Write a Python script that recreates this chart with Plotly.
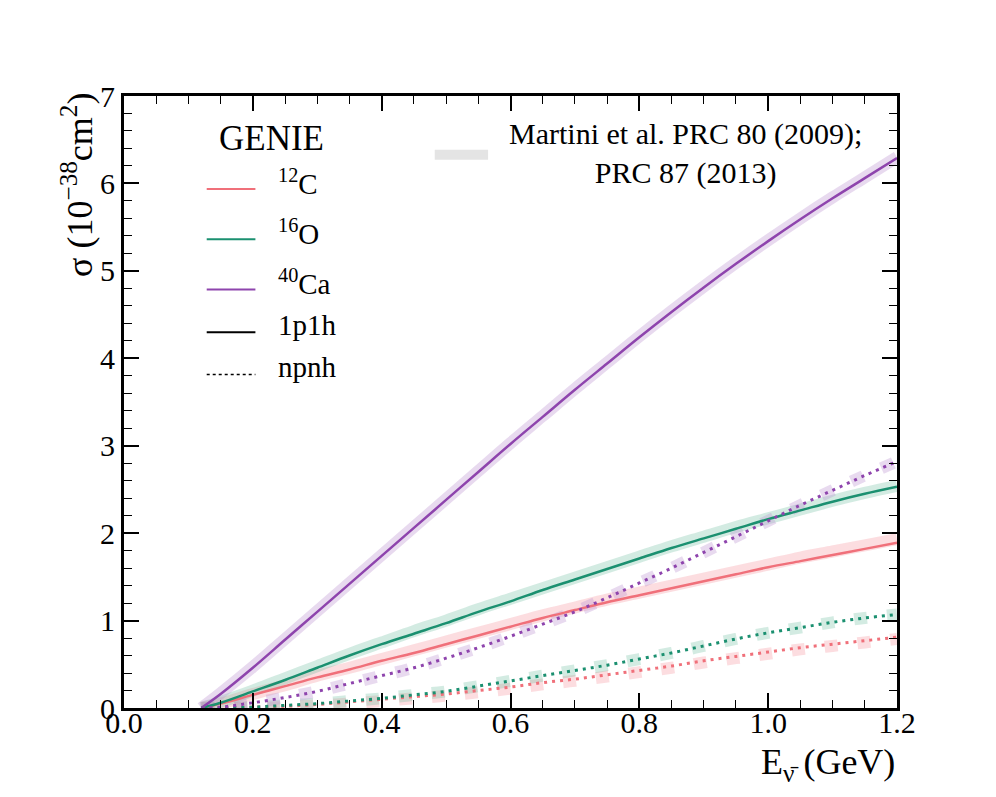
import plotly.graph_objects as go

# energy grid (GeV)
energy = [0.12, 0.15, 0.2, 0.25, 0.3, 0.35, 0.4, 0.45, 0.5, 0.55, 0.6, 0.65,
          0.7, 0.75, 0.8, 0.85, 0.9, 0.95, 1.0, 1.05, 1.1, 1.15, 1.2]

# GENIE 1p1h (10^-38 cm^2)
genie_c_1p1h = [0, 0.05, 0.15, 0.25, 0.35, 0.44, 0.54, 0.63, 0.73, 0.83, 0.93, 1.03,
                1.12, 1.21, 1.29, 1.37, 1.45, 1.53, 1.61, 1.68, 1.75, 1.82, 1.89]
genie_o_1p1h = [0, 0.06, 0.19, 0.32, 0.46, 0.6, 0.73, 0.85, 0.97, 1.1, 1.22, 1.35,
                1.47, 1.59, 1.71, 1.83, 1.94, 2.05, 2.16, 2.26, 2.36, 2.45, 2.53]
genie_ca_1p1h = [0, 0.16, 0.46, 0.78, 1.1, 1.42, 1.74, 2.06, 2.38, 2.7, 3.02, 3.33,
                 3.64, 3.94, 4.24, 4.53, 4.81, 5.08, 5.34, 5.59, 5.83, 6.06, 6.29]

# GENIE npnh
genie_c_npnh = [0, 0, 0.01, 0.02, 0.04, 0.07, 0.1, 0.13, 0.16, 0.2, 0.24, 0.29,
                0.33, 0.38, 0.43, 0.48, 0.54, 0.59, 0.64, 0.69, 0.73, 0.77, 0.81]
genie_o_npnh = [0, 0, 0.01, 0.03, 0.05, 0.08, 0.11, 0.15, 0.19, 0.25, 0.31, 0.37,
                0.43, 0.49, 0.56, 0.63, 0.71, 0.79, 0.86, 0.92, 0.98, 1.03, 1.07]
genie_ca_npnh = [0, 0.01, 0.06, 0.12, 0.19, 0.28, 0.37, 0.46, 0.57, 0.69, 0.82, 0.96,
                 1.1, 1.26, 1.43, 1.6, 1.78, 1.96, 2.14, 2.32, 2.49, 2.66, 2.82]

# Martini et al. (bands)
martini_c_1p1h = [0, 0.05, 0.16, 0.26, 0.37, 0.46, 0.56, 0.66, 0.76, 0.86, 0.96, 1.06,
                  1.15, 1.24, 1.32, 1.4, 1.48, 1.56, 1.64, 1.72, 1.79, 1.86, 1.93]
martini_o_1p1h = [0, 0.07, 0.2, 0.34, 0.48, 0.62, 0.75, 0.88, 1.0, 1.13, 1.25, 1.37,
                  1.49, 1.61, 1.73, 1.85, 1.96, 2.07, 2.17, 2.27, 2.37, 2.46, 2.54]
martini_ca_1p1h = [0, 0.17, 0.47, 0.79, 1.11, 1.43, 1.75, 2.07, 2.39, 2.71, 3.03, 3.34,
                   3.65, 3.95, 4.25, 4.54, 4.82, 5.09, 5.35, 5.6, 5.84, 6.07, 6.3]
martini_c_npnh = [0, 0, 0.0, 0.01, 0.03, 0.05, 0.08, 0.11, 0.14, 0.18, 0.22, 0.27,
                  0.31, 0.36, 0.41, 0.46, 0.52, 0.57, 0.62, 0.67, 0.71, 0.75, 0.79]
martini_o_npnh = [0, 0, 0.01, 0.03, 0.05, 0.08, 0.11, 0.15, 0.19, 0.25, 0.31, 0.37,
                  0.43, 0.49, 0.56, 0.63, 0.71, 0.79, 0.86, 0.92, 0.98, 1.03, 1.07]
martini_ca_npnh = [0, 0.01, 0.06, 0.12, 0.19, 0.28, 0.37, 0.46, 0.57, 0.69, 0.82, 0.96,
                   1.1, 1.26, 1.43, 1.6, 1.78, 1.96, 2.14, 2.32, 2.49, 2.66, 2.82]

red = "#f0707a"
green = "#1b9070"
purple = "#8e44ad"
red_band = "rgba(248,170,178,0.40)"
green_band = "rgba(110,190,160,0.30)"
purple_band = "rgba(190,150,210,0.35)"

FONT = "Liberation Serif, Times New Roman, serif"

fig = go.Figure()

bands = [
    (martini_c_1p1h, red_band, "solid"),
    (martini_o_1p1h, green_band, "solid"),
    (martini_ca_1p1h, purple_band, "solid"),
    (martini_c_npnh, red_band, "13px,20px"),
    (martini_o_npnh, green_band, "13px,20px"),
    (martini_ca_npnh, purple_band, "13px,20px"),
]
for vals, col, dash in bands:
    fig.add_trace(go.Scatter(x=energy, y=vals, mode="lines", showlegend=False,
                             line=dict(color=col, width=12, dash=dash, shape="spline")))

lines = [
    (genie_c_1p1h, red, "solid", 2.5),
    (genie_o_1p1h, green, "solid", 2.5),
    (genie_ca_1p1h, purple, "solid", 2.5),
    (genie_c_npnh, red, "3px,5px", 3),
    (genie_o_npnh, green, "3px,5px", 3),
    (genie_ca_npnh, purple, "3px,5px", 3),
]
for vals, col, dash, w in lines:
    fig.add_trace(go.Scatter(x=energy, y=vals, mode="lines", showlegend=False,
                             line=dict(color=col, width=w, dash=dash, shape="spline")))

# hand-made legend (paper coordinates)
legend_rows = [
    ("<sup>12</sup>C", red, "solid"),
    ("<sup>16</sup>O", green, "solid"),
    ("<sup>40</sup>Ca", purple, "solid"),
    ("1p1h", "black", "solid"),
    ("npnh", "black", "dot"),
]
row_y = [0.848, 0.766, 0.684, 0.614, 0.545]
x0, x1, xt = 0.107, 0.170, 0.197
for (label, col, dash), y in zip(legend_rows, row_y):
    fig.add_shape(type="line", xref="paper", yref="paper", x0=x0, x1=x1, y0=y, y1=y,
                  line=dict(color=col, width=2 if dash == "solid" else 1.5, dash=dash))
    fig.add_annotation(xref="paper", yref="paper", x=xt, y=y + 0.012, text=label,
                       showarrow=False, xanchor="left", yanchor="middle",
                       font=dict(family=FONT, size=29, color="black"))
fig.add_annotation(xref="paper", yref="paper", x=0.191, y=0.93, text="GENIE",
                   showarrow=False, xanchor="center", yanchor="middle",
                   font=dict(family=FONT, size=35, color="black"))
fig.add_shape(type="line", xref="paper", yref="paper", x0=0.402, x1=0.471, y0=0.904, y1=0.904,
              line=dict(color="#e4e4e4", width=10))
fig.add_annotation(xref="paper", yref="paper", x=0.726, y=0.906,
                   text="Martini et al. PRC 80 (2009);<br>PRC 87 (2013)",
                   showarrow=False, xanchor="center", yanchor="middle", align="center",
                   font=dict(family=FONT, size=30, color="black"))

# axis titles
fig.add_annotation(xref="paper", yref="paper", x=-0.061, y=1.008, textangle=-90,
                   text="σ (10<sup>−38</sup>cm<sup>2</sup>)", showarrow=False,
                   xanchor="center", yanchor="top",
                   font=dict(family=FONT, size=36, color="black"))
fig.add_annotation(xref="paper", yref="paper", x=1.0, y=-0.093,
                   text="E<sub>ν̄</sub>\u00a0(GeV)", showarrow=False,
                   xanchor="right", yanchor="middle",
                   font=dict(family=FONT, size=36, color="black"))

axis_common = dict(showgrid=False, zeroline=False, showline=True, linecolor="black",
                   linewidth=3, mirror="allticks", ticks="inside", ticklen=15,
                   tickwidth=1.5, tickcolor="black",
                   tickfont=dict(family=FONT, size=30, color="black"))
fig.update_xaxes(range=[0, 1.2], tickmode="array",
                 tickvals=[0, 0.2, 0.4, 0.6, 0.8, 1.0, 1.2],
                 ticktext=["0.0", "0.2", "0.4", "0.6", "0.8", "1.0", "1.2"],
                 ticklabelstandoff=-14,
                 minor=dict(dtick=0.05, ticklen=8, tickwidth=1.2, ticks="inside",
                            tickcolor="black"),
                 **axis_common)
fig.update_yaxes(range=[0, 7], dtick=1,
                 minor=dict(dtick=0.2, ticklen=8, tickwidth=1.2, ticks="inside",
                            tickcolor="black"),
                 **axis_common)

fig.update_layout(width=988, height=789, plot_bgcolor="white", paper_bgcolor="white",
                  margin=dict(l=116, r=99, t=88, b=89), showlegend=False)

fig.write_html("out.html")
